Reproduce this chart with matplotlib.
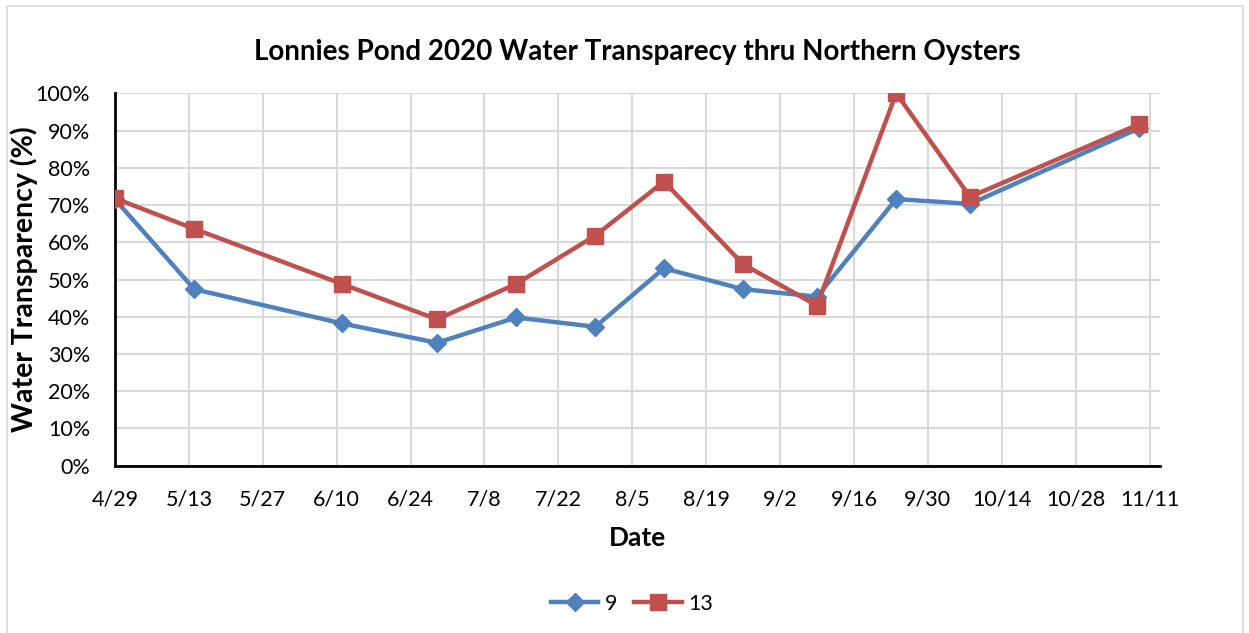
import numpy as np
import pandas as pd
import matplotlib
matplotlib.use("Agg")
import matplotlib.pyplot as plt
import matplotlib.dates as mdates
from matplotlib.ticker import PercentFormatter
from matplotlib.patches import Rectangle

# sample dates (2020) and transparency readings in percent
dates = ["2020-04-29", "2020-05-14", "2020-06-11", "2020-06-29", "2020-07-14", "2020-07-29",
         "2020-08-11", "2020-08-26", "2020-09-09", "2020-09-24", "2020-10-08", "2020-11-09"]
site9 = [71.5, 47.4, 38.2, 33.0, 39.8, 37.3, 53.0, 47.4, 45.4, 71.6, 70.3, 90.6]
site13 = [71.8, 63.6, 48.8, 39.3, 48.8, 61.8, 76.3, 54.1, 43.0, 100.0, 72.2, 91.7]
series_names = ["9", "13"]

x = pd.to_datetime(dates)

plt.rcParams['font.family'] = ['Lato', 'DejaVu Sans']

fig = plt.figure(figsize=(12.49, 6.33), dpi=100)
ax = fig.add_axes([0.0921, 0.2643, 0.8367, 0.5883])

# outer chart border
fig.patches.append(Rectangle((0.006, -0.01), 0.989, 1.0, transform=fig.transFigure,
                             fill=False, edgecolor='#d9d9d9', linewidth=1.2))

ax.plot(x, site9, color='#4f81bd', linewidth=3.2, marker='D', markersize=9,
        label=series_names[0], zorder=3)
ax.plot(x, site13, color='#c0504d', linewidth=3.2, marker='s', markersize=11,
        label=series_names[1], zorder=4)

start = pd.Timestamp("2020-04-29")
ax.set_xlim(start, start + pd.Timedelta(days=198))
ax.set_ylim(0, 100)
ticks = [start + pd.Timedelta(days=14 * i) for i in range(15)]
ax.set_xticks(ticks)
ax.xaxis.set_major_formatter(mdates.DateFormatter('%-m/%-d'))
ax.set_yticks(np.arange(0, 101, 10))
ax.yaxis.set_major_formatter(PercentFormatter(decimals=0))

ax.grid(True, color='#d9d9d9', linewidth=1.5)
ax.set_axisbelow(True)
for s in ['top', 'right']:
    ax.spines[s].set_visible(False)
for s in ['left', 'bottom']:
    ax.spines[s].set_linewidth(2)
    ax.spines[s].set_color('black')
ax.tick_params(length=0, labelsize=15.5, pad=18)
ax.tick_params(axis='x', pad=17)

ax.set_title('Lonnies Pond 2020 Water Transparecy thru Northern Oysters',
             fontsize=20, fontweight='bold', pad=24)
ax.set_xlabel('Date', fontsize=19, fontweight='bold', labelpad=12)
ax.set_ylabel('Water Transparency (%)', fontsize=20.5, fontweight='bold', labelpad=-2)

fig.legend(loc='center', bbox_to_anchor=(0.506, 0.046), ncol=2, frameon=False,
           fontsize=15.5, handlelength=2.2, columnspacing=0.8, handletextpad=0.3)

fig.savefig('out.png', dpi=100)
